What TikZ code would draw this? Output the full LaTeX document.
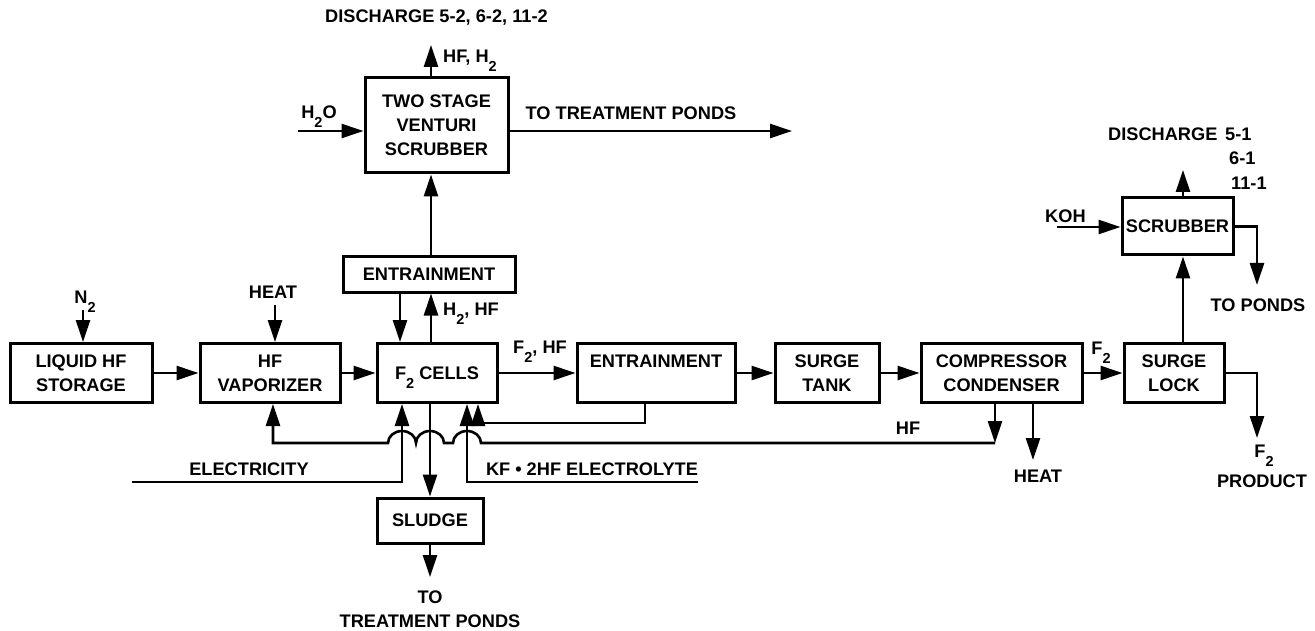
\documentclass[tikz,border=0pt]{standalone}
\usepackage{fontspec}
\setmainfont{Liberation Sans}
\usetikzlibrary{arrows.meta}
\newcommand\low[1]{\raisebox{-9pt}[0pt][0pt]{\fontsize{14.5}{14.5}\selectfont #1}}
\begin{document}
\begin{tikzpicture}[x=1pt,y=-1pt,font=\fontsize{18.2}{24}\selectfont\bfseries,
 box/.style={draw,line width=3pt,align=center,inner sep=0pt,minimum height=59pt},
 flow/.style={line width=2.6pt,-{Triangle[length=22pt,width=14pt]}},
 lab/.style={inner sep=0pt,align=center}]
 \useasboundingbox (0,0) rectangle (1315,631);
 % process boxes
 \node[box,minimum width=142pt] (store) at (81,373) {LIQUID HF\\STORAGE};
 \node[box,minimum width=140pt] (vap) at (270,373) {HF\\VAPORIZER};
 \node[box,minimum width=120pt] (cells) at (437,373) {F\low{2} CELLS};
 \node[box,minimum width=172pt,minimum height=35pt] (entup) at (429,274.5) {ENTRAINMENT};
 \node[box,minimum width=143pt,minimum height=95pt] (venturi) at (436.5,125.5) {TWO STAGE\\VENTURI\\SCRUBBER};
 \node[box,minimum width=106pt,minimum height=45pt] (sludge) at (430,520.5) {SLUDGE};
 \node[box,minimum width=158pt] (entdn) at (656,373) {ENTRAINMENT\\~};
 \node[box,minimum width=104pt] (tank) at (827,373) {SURGE\\TANK};
 \node[box,minimum width=161pt] (comp) at (1001.5,373) {COMPRESSOR\\CONDENSER};
 \node[box,minimum width=100pt] (lock) at (1174,373) {SURGE\\LOCK};
 \node[box,minimum width=111pt,minimum height=57pt] (scrub) at (1177.5,226.5) {SCRUBBER};
 % free ends and columns
 \coordinate (n2) at (83,310);
 \coordinate (heat) at (275,305);
 \coordinate (xdn) at (400,0);
 \coordinate (xup) at (431,0);
 \coordinate (vent) at (431,45);
 \coordinate (h2o) at (298,131);
 \coordinate (pond1) at (792,131);
 \coordinate (elec) at (132,482);
 \coordinate (xel) at (402,0);
 \coordinate (kf) at (698,482);
 \coordinate (xkf) at (467,0);
 \coordinate (sl) at (430,577);
 \coordinate (ret) at (645,423);
 \coordinate (xret) at (478,0);
 \coordinate (hf) at (995,443);
 \coordinate (xvap) at (273,0);
 \coordinate (hout) at (1033,460);
 \coordinate (xsc) at (1183,0);
 \coordinate (dis1) at (1183,170);
 \coordinate (koh) at (1057,227);
 \coordinate (pond2) at (1257,285);
 \coordinate (prod) at (1257,438);
 % main line
 \draw[flow] (n2) -- (n2 |- store.north);
 \draw[flow] (heat) -- (heat |- vap.north);
 \draw[flow] (store) -- (vap);
 \draw[flow] (vap) -- (cells);
 \draw[flow] (cells) -- (entdn);
 \draw[flow] (entdn) -- (tank);
 \draw[flow] (tank) -- (comp);
 \draw[flow] (comp) -- (lock);
 % gas to venturi scrubber
 \draw[flow] (entup.south -| xdn) -- (cells.north -| xdn);
 \draw[flow] (cells.north -| xup) -- (entup.south -| xup);
 \draw[flow] (entup.north -| xup) -- (venturi.south -| xup);
 \draw[flow] (venturi.north -| vent) -- (vent);
 \draw[flow] (h2o) -- (h2o -| venturi.west);
 \draw[flow] (venturi.east |- pond1) -- (pond1);
 % feeds under the cells
 \draw[flow] (elec) -| (cells.south -| xel);
 \draw[flow] (kf) -| (cells.south -| xkf);
 \draw[flow] (cells.south -| sludge.north) -- (sludge.north);
 \draw[flow] (sludge) -- (sl);
 \draw[flow] (entdn.south -| ret) -- (ret) -| (cells.south -| xret);
 % HF recycle
 \draw[flow] (comp.south -| hf) -- (hf);
 \draw[flow] (hf) -- (481,443) arc[start angle=0,end angle=180,x radius=14pt,y radius=12pt]
  -- (444,443) arc[start angle=0,end angle=180,x radius=14pt,y radius=12pt]
  arc[start angle=0,end angle=180,x radius=14pt,y radius=12pt]
  -- (xvap |- hf) -- (vap.south -| xvap);
 \draw[flow] (comp.south -| hout) -- (hout);
 % KOH scrubber and product
 \draw[flow] (lock.north -| xsc) -- (scrub.south -| xsc);
 \draw[flow] (scrub.north -| dis1) -- (dis1);
 \draw[flow] (koh) -- (koh -| scrub.west);
 \draw[flow] (scrub.east) -| (pond2);
 \draw[flow] (lock.east) -| (prod);
 % labels
 \node[lab] (ln2) at (85,297) {N\low{2}};
 \node[lab] (lheat) at (273,292) {HEAT};
 \node[lab] (lf2hf) at (540,349) {F\low{2}, HF};
 \node[lab] (lf2) at (1101,348) {F\low{2}};
 \node[lab,anchor=west] (lh2hf) at (443,311) {H\low{2}, HF};
 \node[lab,anchor=west] (lhfh2) at (443,58) {HF, H\low{2}};
 \node[lab,anchor=west] (ldis2) at (325,18) {DISCHARGE 5-2, 6-2, 11-2};
 \node[lab] (lh2o) at (319,112) {H\low{2}O};
 \node[lab] (lpond1) at (631,113) {TO TREATMENT PONDS};
 \node[lab] (lelec) at (249,469) {ELECTRICITY};
 \node[lab] (lkf) at (592,469) {KF \textbullet{} 2HF ELECTROLYTE};
 \node[lab] (lsl) at (430,609) {TO\\TREATMENT PONDS};
 \node[lab] (lhf) at (908,428) {HF};
 \node[lab] (lhout) at (1038,476) {HEAT};
 \node[lab,anchor=west] (lkoh) at (1045,216) {KOH};
 \node[lab] (lpond2) at (1258,305) {TO PONDS};
 \node[lab] (lf2p) at (1264,451) {F\low{2}};
 \node[lab] (lprod) at (1262,481) {PRODUCT};
 \node[lab,anchor=west] (ldis1) at (1108,134) {DISCHARGE};
 \node[lab,anchor=west] (l51) at (1225,134) {5-1};
 \node[lab,anchor=west] (l61) at (1229,158) {6-1};
 \node[lab,anchor=west] (l111) at (1231,183) {11-1};
\end{tikzpicture}
\end{document}
